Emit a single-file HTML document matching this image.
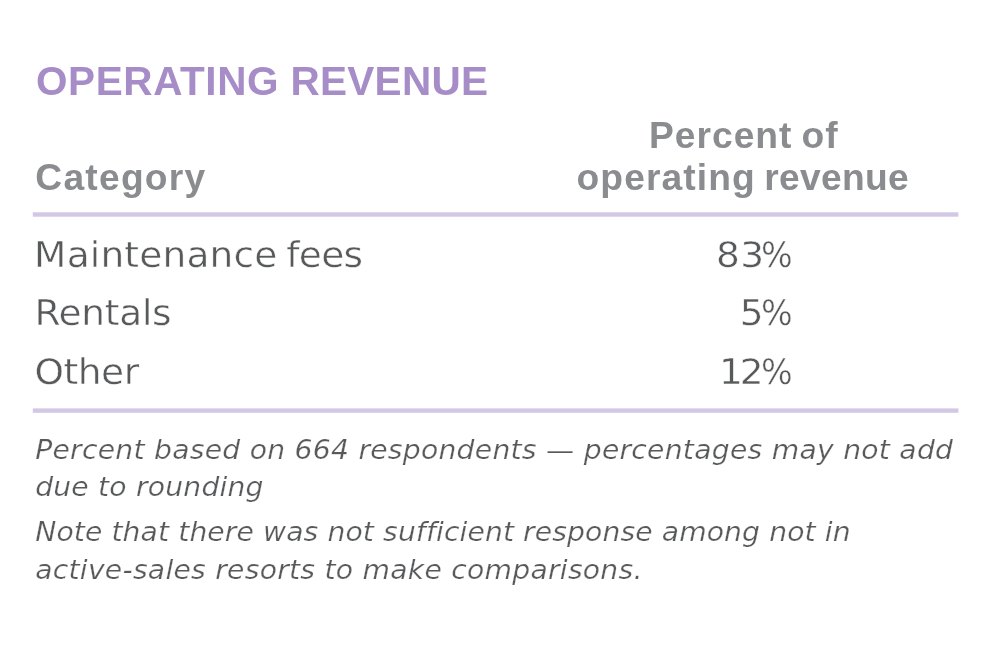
<!DOCTYPE html>
<html lang="en">
<head>
<meta charset="utf-8">
<title>Operating Revenue</title>
<style>
  html, body { margin: 0; padding: 0; background: #ffffff; }
  body { width: 1000px; height: 654px; position: relative; overflow: hidden;
         font-family: "Liberation Sans", sans-serif; }
  .t { position: absolute; white-space: nowrap; line-height: 1; margin: 0; padding: 0; }
  .t span { display: inline-block; }
  #title { left: 36px; top: 60.7px; font-size: 40.5px; font-weight: bold; color: #a78dc8; letter-spacing: 0.3px; word-spacing: -0.34px; }
  #title .w1 { letter-spacing: 0.6px; }
  .hd { font-size: 37.2px; font-weight: bold; color: #8a8c90; }
  #cat { left: 35.3px; top: 159px; letter-spacing: 1.25px; }
  #h1 { left: 649px; top: 117px; letter-spacing: 1px; word-spacing: -2.2px; }
  #h2 { left: 576.5px; top: 159px; letter-spacing: 0.3px; word-spacing: -2.2px; }
  #h2 .w1 { letter-spacing: 1.1px; }
  #rules { position: absolute; left: 0; top: 0; }
  .row { font-family: "DejaVu Sans", "Liberation Sans", sans-serif; font-size: 37.5px; color: #58595b; letter-spacing: -0.2px; -webkit-text-stroke: 0.45px #ffffff; transform: scaleY(0.957); transform-origin: 0 0; }
  .num { left: auto; right: 207.7px; text-align: right; letter-spacing: 0.3px; }
  .num .pc { transform: scaleX(0.89); transform-origin: 100% 50%; margin-left: -7.3px; letter-spacing: 0; }
  .fn { font-family: "DejaVu Sans", "Liberation Sans", sans-serif; font-size: 28.2px; font-style: italic; color: #58595b; letter-spacing: 0.25px; -webkit-text-stroke: 0.25px #ffffff; transform: scaleY(0.9716); transform-origin: 0 0; }
</style>
</head>
<body>
<svg id="rules" width="1000" height="654" viewBox="0 0 1000 654">
  <rect x="32.8" y="212.3" width="925.6" height="4.4" fill="#d2c7e4"/>
  <rect x="32.8" y="408.4" width="925.6" height="4.4" fill="#d2c7e4"/>
</svg>
<h1 class="t" id="title"><span class="w1">OPERATING</span> <span class="w2">REVENUE</span></h1>
<div class="t hd" id="cat">Category</div>
<div class="t hd" id="h1"><span class="w1">Percent</span> <span class="w2">of</span></div>
<div class="t hd" id="h2"><span class="w1">operating</span> <span class="w2">revenue</span></div>
<div class="t row" id="a1" style="left:34.1px; top:236.85px; word-spacing:-3px;"><span style="letter-spacing:0.18px">Maintenance</span> <span style="letter-spacing:-0.68px">fees</span></div>
<div class="t row num" id="n1" style="top:236.85px;"><span>8<span style="letter-spacing:-0.1px">3</span></span><span class="pc">%</span></div>
<div class="t row" id="a2" style="left:34.5px; top:295.15px; letter-spacing:-0.3px;">Rentals</div>
<div class="t row num" id="n2" style="top:295.15px;"><span>5</span><span class="pc">%</span></div>
<div class="t row" id="a3" style="left:34.6px; top:354.05px; letter-spacing:-0.5px;">Other</div>
<div class="t row num" id="n3" style="top:354.05px;"><span><span style="letter-spacing:-3px">1</span>2</span><span class="pc">%</span></div>
<div class="t fn" id="f1" style="left:35.2px; top:437.1px; letter-spacing:0.27px;">Percent based on 664 respondents — percentages may not add</div>
<div class="t fn" id="f2" style="left:35.2px; top:473.8px; letter-spacing:0.21px;">due to rounding</div>
<div class="t fn" id="f3" style="left:35.2px; top:518.7px; letter-spacing:0.115px;">Note that there was not sufficient response among not in</div>
<div class="t fn" id="f4" style="left:35.2px; top:556.8px; letter-spacing:0.265px;">active-sales resorts to make comparisons.</div>
</body>
</html>
